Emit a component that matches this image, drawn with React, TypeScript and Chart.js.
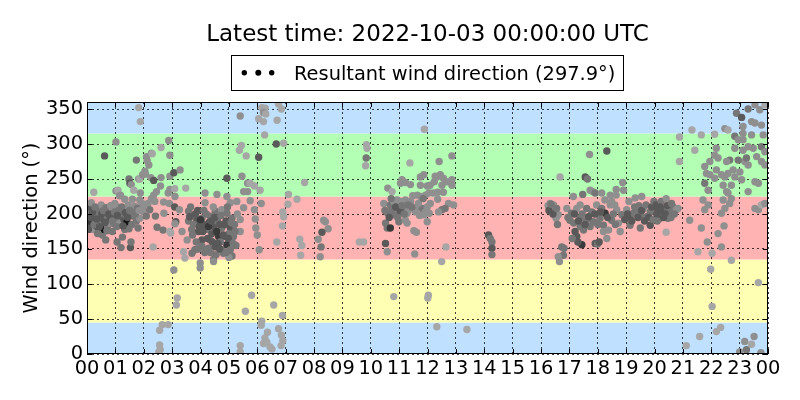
import { useEffect, useRef } from "react";
import { Chart, registerables, type ChartConfiguration, type Plugin } from "chart.js";

Chart.register(...registerables);

// [hour of day, wind direction (deg), grey level 0 (dark) .. 5 (light)]
type Obs = [number, number, number];

const obsNight: Obs[] = [
  [0.04, 185, 2], [0.07, 194, 3], [0.09, 209, 2], [0.12, 200, 3], [0.15, 216, 4], [0.18, 178, 4],
  [0.21, 190, 3], [0.24, 231, 5], [0.27, 199, 3], [0.3, 184, 2], [0.33, 206, 4], [0.39, 180, 2],
  [0.42, 206, 3], [0.45, 197, 3], [0.47, 188, 3], [0.5, 213, 4], [0.54, 170, 3], [0.56, 187, 3],
  [0.6, 192, 2], [0.61, 178, 0], [0.62, 283, 2], [0.68, 209, 3], [0.68, 199, 4], [0.72, 182, 3],
  [0.74, 194, 3], [0.8, 187, 4], [0.83, 212, 4], [0.86, 194, 3], [0.89, 175, 3], [0.92, 206, 4],
  [0.95, 186, 3], [0.98, 215, 4], [1.01, 199, 3], [1.02, 303, 4], [1.02, 233, 4], [1.03, 211, 4],
  [1.09, 192, 3], [1.09, 234, 5], [1.12, 205, 3], [1.15, 186, 4], [1.15, 226, 4], [1.18, 227, 4],
  [1.2, 152, 3], [1.25, 197, 3], [1.25, 167, 3], [1.3, 192, 2], [1.33, 221, 4], [1.33, 178, 3],
  [1.38, 198, 3], [1.39, 207, 4], [1.41, 188, 0], [1.45, 213, 4], [1.48, 179, 3], [1.48, 250, 3],
  [1.51, 244, 2], [1.53, 152, 2], [1.56, 242, 4], [1.56, 204, 3], [1.6, 221, 4], [1.62, 197, 3],
  [1.65, 234, 5], [1.68, 211, 4], [1.74, 277, 3], [1.74, 190, 3], [1.8, 180, 3], [1.82, 352, 5],
  [1.82, 250, 4], [1.86, 250, 5], [1.86, 194, 4], [1.86, 220, 4], [1.88, 332, 5], [1.88, 230, 4],
  [1.92, 213, 4], [1.94, 215, 4], [1.96, 256, 4], [1.98, 204, 4], [2.04, 261, 4], [2.06, 257, 4],
  [2.09, 197, 3], [2.1, 282, 4], [2.12, 276, 4], [2.15, 215, 4], [2.18, 270, 4], [2.21, 206, 3],
  [2.25, 252, 4], [2.27, 287, 4], [2.27, 222, 4], [2.3, 286, 5], [2.33, 153, 5], [2.35, 248, 2],
  [2.35, 227, 4], [2.39, 218, 4], [2.41, 197, 3], [2.45, 232, 4], [2.47, 181, 3], [2.59, 240, 4],
  [2.61, 295, 5], [2.61, 252, 4], [2.68, 177, 3], [2.7, 217, 4], [2.71, 201, 4], [2.86, 230, 4],
  [2.88, 305, 4], [2.9, 215, 4], [2.92, 284, 4], [2.92, 175, 5], [2.92, 254, 4], [2.92, 235, 4],
  [2.95, 173, 5], [2.65, 42, 5], [2.86, 42, 5], [2.56, 34, 5], [2.56, 13, 5], [2.58, 6, 5],
  [2.53, 3, 5], [0.02, 200, 3], [0.05, 178, 2], [0.1, 190, 1], [0.14, 195, 2], [0.2, 203, 2],
  [0.25, 185, 3], [0.28, 210, 3], [0.35, 193, 2], [0.37, 172, 3], [0.44, 182, 2], [0.52, 200, 2],
  [0.58, 205, 3], [0.64, 188, 2], [0.7, 176, 3], [0.77, 200, 2], [0.82, 195, 2], [0.9, 190, 3],
  [0.97, 203, 3], [1.05, 182, 3], [1.07, 198, 2], [1.22, 210, 3], [1.27, 183, 2], [1.35, 202, 2],
  [1.43, 195, 2], [1.5, 205, 3], [1.58, 185, 3], [1.7, 200, 3], [1.77, 208, 3], [1.84, 205, 4],
  [2.0, 212, 4], [1.06, 160, 3], [1.55, 160, 3], [0.66, 163, 3],
];

const obsMorning: Obs[] = [
  [3.09, 236, 5], [3.48, 237, 5], [3.09, 210, 2], [3.26, 206, 4], [3.13, 189, 2], [3.35, 175, 4],
  [3.53, 163, 4], [3.4, 146, 5], [3.45, 137, 5], [3.06, 120, 4], [3.18, 80, 5], [3.15, 70, 5],
  [3.06, 259, 2], [3.28, 263, 4], [3.1, 225, 4], [3.1, 186, 4], [3.58, 204, 3], [3.75, 197, 3],
  [3.58, 190, 3], [3.87, 190, 2], [4.05, 194, 3], [4.34, 197, 3], [4.52, 204, 3], [4.75, 206, 4],
  [4.93, 201, 3], [5.11, 194, 3], [5.4, 192, 4], [3.69, 178, 3], [3.93, 175, 2], [4.22, 178, 3],
  [4.46, 182, 2], [4.75, 180, 3], [5.05, 180, 2], [4.05, 163, 2], [4.34, 163, 3], [4.64, 168, 1],
  [4.87, 168, 2], [5.16, 168, 3], [3.8, 149, 3], [3.7, 144, 3], [4.05, 154, 3], [4.28, 151, 3],
  [4.52, 153, 2], [4.75, 149, 3], [4.93, 156, 1], [4.81, 144, 3], [5.11, 140, 3], [4.46, 135, 3],
  [3.99, 130, 4], [3.99, 123, 4], [5.05, 149, 3], [5.4, 175, 4], [4.16, 230, 4], [4.58, 228, 4],
  [4.93, 251, 2], [4.93, 225, 4], [5.46, 254, 4], [5.66, 244, 4], [5.52, 232, 4], [5.66, 232, 4],
  [5.28, 218, 4], [5.05, 216, 4], [4.16, 216, 4], [5.52, 209, 4], [3.65, 210, 3], [3.9, 205, 2],
  [4.1, 185, 2], [4.2, 200, 3], [4.3, 188, 2], [4.4, 172, 2], [4.6, 190, 3], [4.7, 160, 3],
  [4.85, 185, 2], [5.0, 172, 3], [5.2, 185, 3], [5.25, 155, 3], [3.85, 160, 3], [4.15, 145, 3],
  [4.55, 142, 3], [5.0, 138, 4], [4.95, 210, 3], [5.3, 200, 4], [3.75, 185, 3], [4.45, 210, 4],
  [4.46, 132, 4], [3.62, 196, 2], [3.72, 170, 3], [3.82, 200, 2], [3.96, 182, 2], [4.0, 192, 1],
  [4.08, 175, 2], [4.12, 205, 3], [4.25, 165, 2], [4.28, 182, 1], [4.38, 190, 2], [4.42, 160, 2],
  [4.5, 195, 2], [4.57, 175, 1], [4.62, 158, 2], [4.68, 185, 2], [4.72, 198, 3], [4.8, 170, 2],
  [4.9, 190, 2], [4.98, 165, 2], [5.08, 188, 3], [5.15, 158, 3], [5.22, 175, 3], [3.92, 150, 3],
  [4.35, 145, 3], [4.68, 150, 2], [4.9, 145, 3],
];

const obsLateMorning: Obs[] = [
  [5.4, 340, 4], [6.16, 352, 5], [6.28, 351, 5], [6.22, 345, 4], [6.3, 343, 5], [6.75, 357, 5],
  [6.85, 350, 5], [6.05, 336, 5], [6.22, 332, 5], [6.7, 334, 5], [6.26, 313, 5], [6.67, 300, 2],
  [6.93, 301, 5], [5.44, 298, 5], [5.37, 291, 5], [5.61, 283, 5], [6.05, 281, 2], [5.75, 244, 5],
  [5.9, 240, 5], [6.1, 234, 5], [7.1, 228, 5], [7.4, 221, 5], [7.67, 245, 5], [7.08, 214, 5],
  [6.14, 215, 4], [5.75, 219, 4], [5.9, 206, 4], [5.93, 193, 4], [6.9, 203, 5], [6.93, 196, 5],
  [6.89, 183, 5], [5.95, 180, 4], [6.0, 170, 4], [6.69, 160, 5], [7.5, 164, 5], [7.57, 155, 5],
  [7.53, 141, 5], [6.07, 149, 4], [5.8, 84, 5], [6.58, 70, 5], [5.58, 61, 5], [6.89, 55, 5],
  [6.16, 47, 5], [6.14, 41, 5], [6.36, 31, 5], [6.27, 23, 5], [6.22, 15, 5], [6.34, 17, 5],
  [6.45, 10, 5], [6.52, 7, 5], [6.75, 36, 5], [6.85, 27, 5], [6.9, 19, 5], [6.84, 12, 5],
  [5.4, 12, 5], [5.4, 3, 5],
];

const obsMidday: Obs[] = [
  [8.34, 191, 4], [8.4, 189, 4], [8.5, 179, 4], [8.28, 174, 2], [8.15, 164, 4], [8.25, 153, 3],
  [8.22, 139, 4], [9.6, 160, 5], [9.75, 160, 5], [9.85, 299, 5], [9.87, 294, 5], [9.84, 280, 3],
  [9.82, 269, 5], [10.81, 82, 5], [11.89, 321, 5], [11.38, 273, 5], [10.6, 237, 4], [10.75, 232, 5],
  [11.05, 244, 4], [11.22, 245, 4], [11.4, 242, 4], [11.1, 249, 4], [11.75, 253, 4], [11.87, 256, 4],
  [11.75, 241, 4], [11.99, 240, 4], [10.46, 215, 4], [10.69, 213, 3], [10.81, 218, 4], [10.93, 220, 4],
  [11.05, 218, 4], [11.22, 220, 4], [11.4, 218, 4], [11.64, 227, 4], [11.75, 225, 4], [11.93, 227, 4],
  [12.05, 230, 4], [10.75, 208, 3], [10.99, 206, 3], [11.16, 210, 3], [11.34, 206, 4], [11.58, 208, 4],
  [11.81, 208, 3], [11.99, 210, 4], [10.6, 201, 3], [10.81, 199, 3], [11.05, 203, 2], [11.28, 201, 4],
  [11.58, 203, 4], [11.87, 199, 4], [10.52, 187, 3], [10.58, 180, 3], [10.69, 180, 1], [10.99, 189, 3],
  [11.22, 191, 4], [11.28, 187, 4], [11.52, 176, 4], [11.61, 174, 4], [10.52, 158, 2], [10.58, 146, 4],
  [11.55, 143, 4], [11.99, 189, 4], [11.93, 203, 4], [12.86, 283, 4], [12.41, 275, 4], [12.27, 254, 4],
  [12.45, 256, 4], [12.33, 253, 4], [12.56, 251, 4], [12.68, 246, 4], [12.86, 249, 4], [12.86, 241, 4],
  [12.51, 241, 4], [12.09, 241, 4], [12.36, 231, 4], [12.56, 231, 4], [12.36, 221, 4], [12.74, 215, 4],
  [12.92, 213, 4], [12.62, 208, 3], [12.51, 206, 3], [12.39, 203, 4], [12.06, 201, 4], [14.15, 170, 2],
  [14.21, 165, 3], [14.27, 160, 3], [14.27, 151, 2], [14.27, 142, 3], [12.65, 153, 5], [12.5, 132, 5],
  [12.03, 84, 5], [12.01, 80, 5], [12.33, 39, 5], [13.39, 35, 5], [10.5, 205, 3], [10.65, 195, 2],
  [10.72, 222, 3], [10.88, 210, 2], [10.95, 195, 3], [11.1, 212, 3], [11.18, 200, 3], [11.32, 213, 3],
  [11.45, 210, 3], [11.48, 226, 4], [11.68, 215, 4], [11.72, 198, 4], [11.85, 222, 3], [12.1, 215, 4],
  [12.2, 230, 4], [12.24, 246, 4],
];

const obsAfternoon: Obs[] = [
  [17.71, 285, 4], [18.32, 290, 2], [16.67, 253, 5], [17.56, 253, 2], [17.64, 250, 3], [18.88, 245, 4],
  [18.91, 234, 4], [17.73, 234, 4], [17.82, 232, 4], [17.91, 230, 3], [18.14, 230, 4], [18.65, 235, 4],
  [17.14, 225, 4], [17.47, 228, 3], [18.44, 227, 4], [18.65, 227, 4], [19.32, 223, 4], [16.32, 215, 4],
  [16.44, 213, 4], [16.49, 206, 4], [16.53, 194, 4], [16.61, 199, 4], [16.25, 212, 4], [16.38, 205, 4],
  [16.91, 208, 4], [17.08, 201, 3], [17.26, 208, 4], [17.38, 213, 4], [17.61, 208, 3], [17.79, 203, 3],
  [17.96, 213, 4], [18.14, 208, 3], [18.26, 201, 1], [18.44, 213, 4], [18.49, 218, 4], [18.67, 206, 4],
  [18.85, 199, 3], [19.02, 206, 4], [19.14, 196, 2], [19.26, 201, 3], [19.38, 206, 3], [19.5, 199, 3],
  [19.61, 208, 4], [19.73, 196, 3], [19.85, 203, 3], [20.02, 210, 3], [20.14, 206, 2], [17.02, 191, 3],
  [17.38, 194, 3], [17.61, 191, 3], [17.85, 189, 3], [18.08, 194, 3], [18.2, 184, 3], [18.49, 191, 3],
  [18.73, 187, 4], [19.14, 184, 3], [19.5, 180, 3], [19.85, 184, 2], [17.73, 182, 3], [17.2, 175, 2],
  [17.26, 168, 2], [17.44, 156, 1], [17.91, 158, 2], [17.99, 157, 3], [18.2, 175, 4], [18.38, 177, 4],
  [18.32, 165, 4], [18.79, 175, 4], [17.38, 182, 3], [17.5, 177, 3], [16.73, 153, 3], [16.81, 151, 3],
  [16.79, 141, 3], [16.61, 139, 4], [16.65, 132, 4], [16.28, 205, 2], [16.35, 214, 3], [16.42, 200, 2],
  [16.55, 208, 3], [16.58, 185, 3], [16.95, 195, 3], [17.15, 187, 3], [17.18, 200, 2], [17.32, 190, 2],
  [17.45, 200, 3], [17.55, 185, 2], [17.68, 196, 2], [17.9, 200, 2], [18.0, 185, 3], [18.1, 203, 2],
  [18.35, 195, 2], [18.55, 200, 3], [18.62, 185, 3], [18.95, 192, 2], [19.05, 200, 2], [19.2, 190, 2],
  [19.3, 210, 3], [19.42, 195, 2], [19.45, 212, 3], [19.55, 205, 2], [19.65, 190, 2], [19.7, 213, 3],
  [19.8, 195, 2], [19.9, 210, 2], [19.95, 192, 3], [19.98, 218, 3], [17.3, 160, 2], [17.1, 165, 3],
  [18.05, 160, 2], [18.25, 220, 4], [18.6, 213, 4], [19.1, 218, 4], [19.55, 225, 4],
];

const obsEvening: Obs[] = [
  [20.06, 213, 2], [20.12, 206, 2], [20.24, 218, 3], [20.35, 208, 3], [20.41, 222, 4], [20.53, 203, 3],
  [20.65, 210, 3], [20.77, 206, 4], [20.47, 194, 3], [20.18, 194, 2], [20.83, 208, 4], [20.29, 201, 3],
  [20.08, 200, 2], [20.1, 190, 3], [20.2, 210, 2], [20.32, 195, 2], [20.22, 205, 2], [20.38, 200, 2],
  [20.45, 212, 2], [20.58, 195, 3], [20.6, 215, 3], [20.7, 200, 3],
  [20.41, 174, 5], [20.88, 310, 5], [21.32, 320, 5], [21.65, 313, 5], [22.12, 314, 5], [21.42, 291, 5],
  [20.88, 275, 5], [22.18, 294, 4], [22.12, 284, 4], [22.24, 280, 4], [21.95, 275, 4], [21.53, 146, 5],
  [21.86, 160, 4], [22.03, 144, 5], [22.71, 134, 5], [21.98, 121, 5], [23.66, 102, 5], [22.03, 68, 5],
  [22.18, 32, 5], [22.33, 38, 5], [21.59, 25, 5], [21.12, 12, 5], [23.18, 18, 4], [23.42, 14, 5],
  [23.51, 25, 4], [23.24, 6, 3], [23.0, 3, 4], [23.75, 2, 4], [21.77, 268, 4], [21.83, 258, 4],
  [21.95, 256, 4], [21.77, 244, 3], [21.89, 234, 4], [21.71, 220, 4], [21.89, 213, 4], [21.77, 206, 4],
  [22.42, 241, 4], [22.48, 253, 4], [22.59, 258, 4], [22.71, 241, 4], [22.54, 232, 4], [22.42, 220, 4],
  [22.65, 215, 4], [22.48, 208, 4], [22.36, 201, 4], [21.24, 191, 4], [21.65, 180, 4], [22.24, 172, 4],
  [22.45, 183, 4], [22.36, 153, 4], [22.12, 251, 4], [22.18, 263, 4], [22.36, 256, 4], [22.77, 263, 4],
  [22.83, 253, 4], [23.01, 260, 4], [23.07, 249, 4], [23.18, 275, 4], [23.3, 232, 4], [23.54, 208, 4],
  [23.66, 206, 4], [23.77, 213, 5], [23.89, 215, 4], [23.54, 246, 4], [23.66, 244, 4], [22.48, 322, 4],
  [22.59, 320, 5], [22.89, 344, 3], [23.07, 338, 2], [23.3, 350, 3], [23.54, 356, 4], [23.71, 349, 4],
  [23.42, 332, 4], [23.54, 330, 4], [23.77, 327, 4], [23.89, 356, 5], [23.12, 325, 4], [22.83, 311, 3],
  [22.95, 306, 4], [23.12, 315, 4], [23.42, 313, 4], [23.83, 313, 4], [22.83, 294, 4], [23.12, 291, 4],
  [23.3, 296, 4], [23.48, 294, 4], [23.77, 296, 3], [23.89, 289, 4], [23.6, 282, 4], [23.24, 280, 3],
  [22.95, 277, 3], [22.65, 277, 3], [22.54, 275, 4], [23.3, 270, 4], [23.77, 275, 4], [23.89, 270, 4],
  [22.59, 230, 4], [22.71, 222, 4], [23.12, 306, 4],
];

// compass sectors behind the points
const sectorEdges = [0, 45, 135, 225, 315, 360];
const sectorColors = ["#bfe0ff", "#ffffb3", "#ffb3b3", "#b3ffb3", "#bfe0ff"];

const yTicks = [0, 50, 100, 150, 200, 250, 300, 350];
const xTicks = Array.from({ length: 25 }, (_, i) => i);

const titleText = "Latest time: 2022-10-03 00:00:00 UTC";
const legendText = "Resultant wind direction (297.9°)";
const yTitle = "Wind direction (°)";

const greys = ["#111111", "#3a3a3a", "#595959", "#767676", "#8f8f8f", "#a6a6a6"];

const FONT = "'DejaVu Sans', sans-serif";

const sectorsPlugin: Plugin<"scatter"> = {
  id: "sectors",
  beforeDraw(chart) {
    const { ctx, chartArea } = chart;
    const y = chart.scales.y;
    ctx.save();
    for (let i = 0; i < sectorColors.length; i++) {
      const top = y.getPixelForValue(sectorEdges[i + 1]);
      const bottom = y.getPixelForValue(sectorEdges[i]);
      ctx.fillStyle = sectorColors[i];
      ctx.fillRect(chartArea.left, top, chartArea.right - chartArea.left, bottom - top);
    }
    ctx.restore();
  },
};

const decorPlugin: Plugin<"scatter"> = {
  id: "decor",
  afterDraw(chart) {
    const { ctx, chartArea } = chart;
    const { left, right, top, bottom } = chartArea;
    const x = chart.scales.x;
    const y = chart.scales.y;
    ctx.save();

    // frame + inward ticks on all sides
    ctx.strokeStyle = "#000";
    ctx.lineWidth = 1;
    ctx.setLineDash([]);
    ctx.strokeRect(left + 0.5, top + 0.5, right - left - 1, bottom - top - 1);
    ctx.beginPath();
    xTicks.forEach((h) => {
      const px = Math.round(x.getPixelForValue(h)) + 0.5;
      ctx.moveTo(px, bottom);
      ctx.lineTo(px, bottom - 5);
      ctx.moveTo(px, top);
      ctx.lineTo(px, top + 5);
    });
    yTicks.forEach((d) => {
      const py = Math.round(y.getPixelForValue(d)) + 0.5;
      ctx.moveTo(left, py);
      ctx.lineTo(left + 5, py);
      ctx.moveTo(right, py);
      ctx.lineTo(right - 5, py);
    });
    ctx.stroke();

    // title
    ctx.fillStyle = "#000";
    ctx.textAlign = "center";
    ctx.textBaseline = "alphabetic";
    ctx.font = `23px ${FONT}`;
    ctx.fillText(titleText, (left + right) / 2, 41);

    // legend
    ctx.strokeRect(231.5, 55.5, 392, 35);
    ctx.beginPath();
    [244.3, 258.3, 271.7].forEach((cx, i) => {
      const r = i === 1 ? 3 : 2.7;
      ctx.moveTo(cx + r, 72.7);
      ctx.arc(cx, 72.7, r, 0, Math.PI * 2);
    });
    ctx.fill();
    ctx.textAlign = "left";
    ctx.font = `19.4px ${FONT}`;
    ctx.fillText(legendText, 294, 80);

    // y axis title
    ctx.translate(37, (top + bottom) / 2);
    ctx.rotate(-Math.PI / 2);
    ctx.textAlign = "center";
    ctx.fillText(yTitle, 0, 0);
    ctx.restore();
  },
};

export default function App() {
  const canvasRef = useRef<HTMLCanvasElement>(null);
  const chartRef = useRef<Chart<"scatter"> | null>(null);

  useEffect(() => {
    document.body.style.margin = "0";
    const canvas = canvasRef.current;
    if (!canvas) {
      return;
    }
    chartRef.current?.destroy();

    const all = [...obsNight, ...obsMorning, ...obsLateMorning, ...obsMidday, ...obsAfternoon, ...obsEvening];

    const config: ChartConfiguration<"scatter"> = {
      type: "scatter",
      data: {
        datasets: [
          {
            label: legendText,
            data: all.map(([h, d, g]) => ({ x: h, y: d, g })) as any,
            pointRadius: 3.7,
            pointBorderWidth: 0,
            pointBackgroundColor: (c: any) => greys[c.raw?.g ?? 4],
            pointBorderColor: "rgba(0,0,0,0)",
            clip: 0,
          },
        ],
      },
      options: {
        responsive: false,
        animation: false,
        devicePixelRatio: 1,
        layout: { padding: { top: 102, right: 32, left: 0, bottom: 0 } },
        plugins: {
          legend: { display: false },
          title: { display: false },
          tooltip: { enabled: false },
        },
        scales: {
          x: {
            type: "linear",
            min: 0,
            max: 24,
            z: 1,
            afterFit: (s) => {
              s.height = 46;
            },
            afterBuildTicks: (s) => {
              s.ticks = xTicks.map((v) => ({ value: v }));
            },
            ticks: {
              autoSkip: false,
              maxRotation: 0,
              color: "#000",
              padding: 3,
              font: { family: FONT, size: 19.4 },
              callback: (v) => String(Number(v) % 24).padStart(2, "0"),
            },
            grid: { color: "rgba(0,0,0,0.75)", lineWidth: 1, drawTicks: false },
            border: { display: false, dash: [2, 3] },
          },
          y: {
            type: "linear",
            min: 0,
            max: 360,
            z: 1,
            afterFit: (s) => {
              s.width = 87;
            },
            afterBuildTicks: (s) => {
              s.ticks = yTicks.map((v) => ({ value: v }));
            },
            ticks: {
              color: "#000",
              padding: 4,
              font: { family: FONT, size: 19.4 },
            },
            grid: { color: "rgba(0,0,0,0.75)", lineWidth: 1, drawTicks: false },
            border: { display: false, dash: [2, 3] },
          },
        },
      },
      plugins: [sectorsPlugin, decorPlugin],
    };

    chartRef.current = new Chart(canvas, config);

    return () => {
      chartRef.current?.destroy();
      chartRef.current = null;
    };
  }, []);

  return (
    <div style={{ width: 800, height: 400 }}>
      <canvas ref={canvasRef} width={800} height={400} />
    </div>
  );
}
